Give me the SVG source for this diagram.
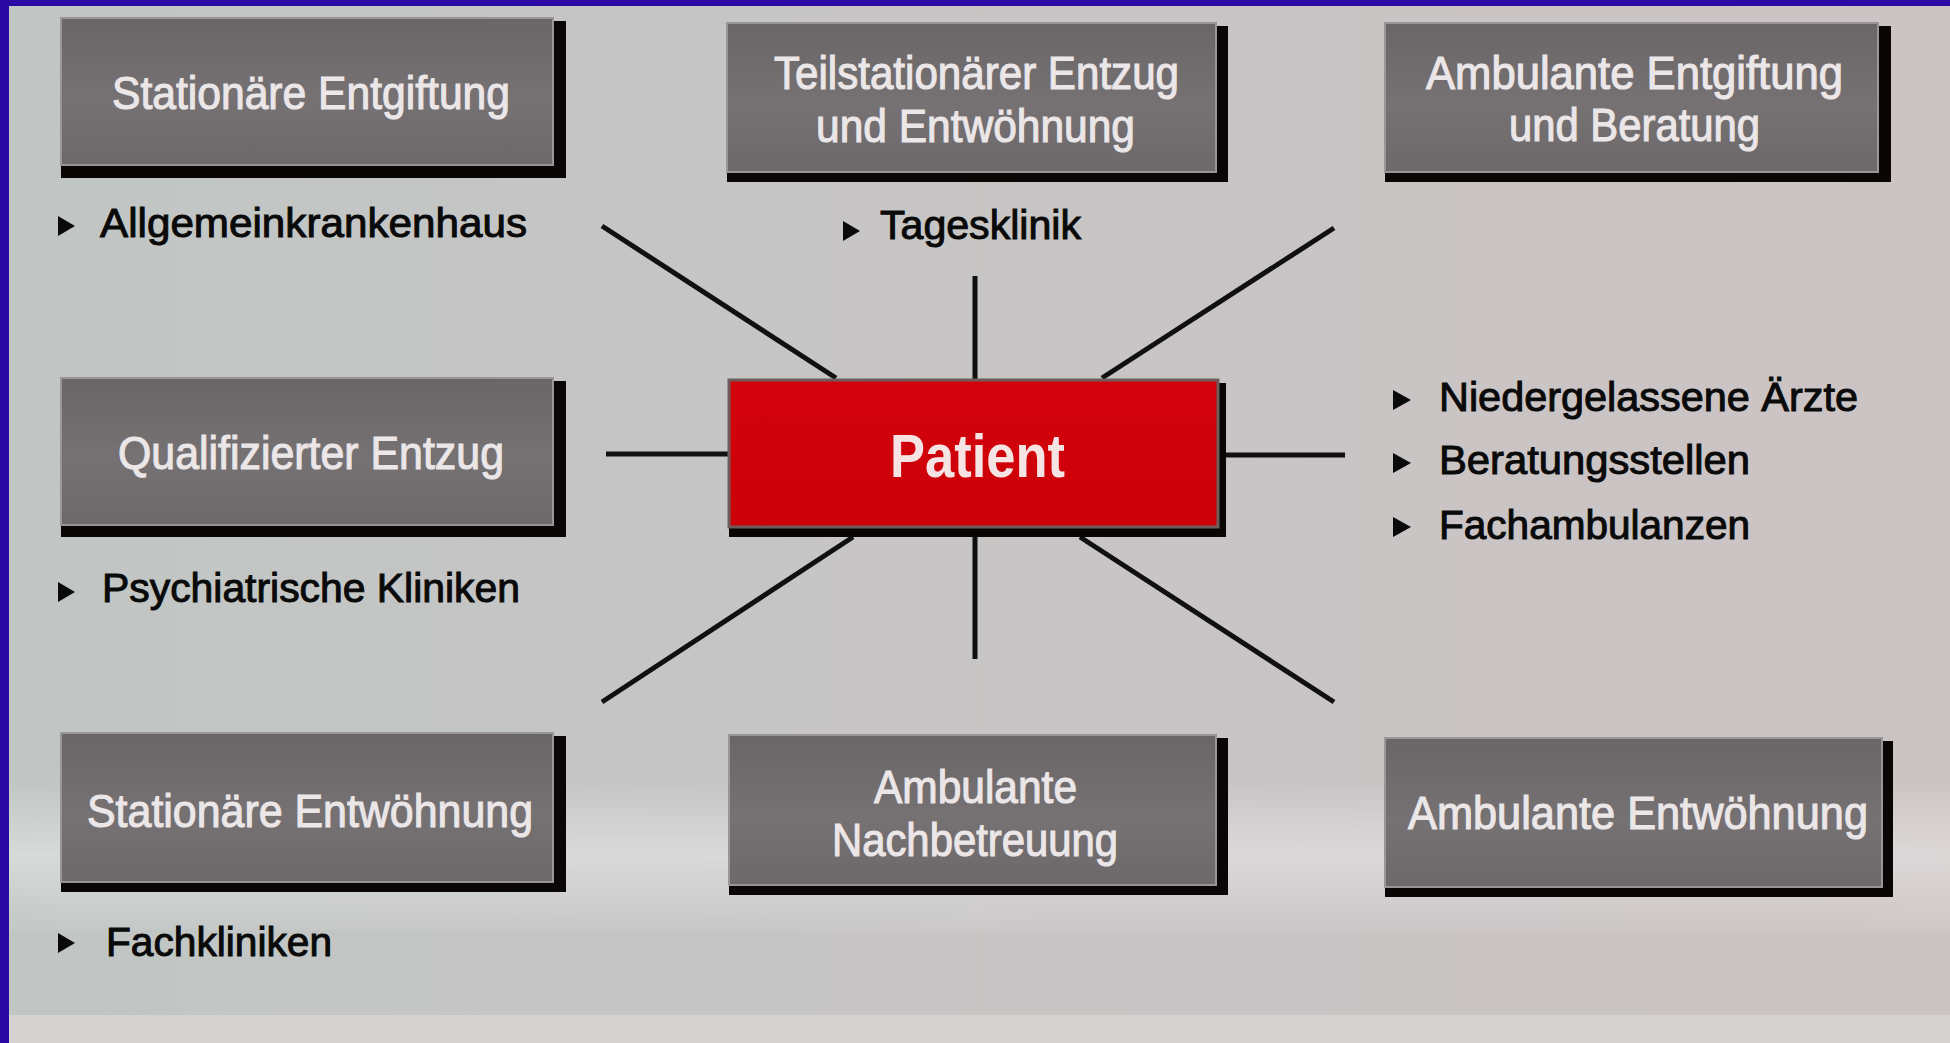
<svg xmlns="http://www.w3.org/2000/svg" width="1950" height="1043" viewBox="0 0 1950 1043">
<defs>
<linearGradient id="bgH" x1="0" y1="0" x2="1" y2="0">
<stop offset="0" stop-color="#c0c6c4"/>
<stop offset="0.5" stop-color="#c8c5c5"/>
<stop offset="1" stop-color="#ccc3c4"/>
</linearGradient>
<linearGradient id="cloud" x1="0" y1="0" x2="0" y2="1">
<stop offset="0" stop-color="#ffffff" stop-opacity="0"/>
<stop offset="0.5" stop-color="#ffffff" stop-opacity="0.35"/>
<stop offset="1" stop-color="#ffffff" stop-opacity="0.05"/>
</linearGradient>
<linearGradient id="boxFill" x1="0" y1="0" x2="0" y2="1">
<stop offset="0" stop-color="#6a6567"/>
<stop offset="0.55" stop-color="#767173"/>
<stop offset="1" stop-color="#6d696b"/>
</linearGradient>
<linearGradient id="redFill" x1="0" y1="0" x2="0" y2="1">
<stop offset="0" stop-color="#d3030c"/>
<stop offset="1" stop-color="#cc0008"/>
</linearGradient>
</defs>
<style>
.shadow{fill:#0b0606}
.box{fill:url(#boxFill);stroke:#9a9697;stroke-width:2}
.pbox{fill:url(#redFill);stroke:#6e5c5c;stroke-width:3}
.bt{font-family:"Liberation Sans",Arial,sans-serif;font-size:46px;fill:#ebe6e7;stroke:#ebe6e7;stroke-width:1.1}
.lt{font-family:"Liberation Sans",Arial,sans-serif;font-size:40px;fill:#0a0a0a;stroke:#0a0a0a;stroke-width:1}
.pt{font-family:"Liberation Sans",Arial,sans-serif;font-size:61px;font-weight:bold;fill:#f6e4e4}
.tri{fill:#0a0a0a}
.con{stroke:#101010;stroke-width:5;fill:none;stroke-linecap:butt}
</style>

<rect x="0" y="0" width="1950" height="1043" fill="url(#bgH)"/>
<rect x="0" y="780" width="1950" height="150" fill="url(#cloud)"/>
<rect x="0" y="1015" width="1950" height="28" fill="#d6d2cf"/>
<rect x="0" y="0" width="9" height="1043" fill="#2a0aa2"/>
<rect x="0" y="0" width="1950" height="6" fill="#2a0aa2"/>

<g id="connectors">
<line class="con" x1="602" y1="226" x2="836" y2="378"/>
<line class="con" x1="975" y1="276" x2="975" y2="380"/>
<line class="con" x1="1334" y1="228" x2="1102" y2="378"/>
<line class="con" x1="606" y1="454" x2="729" y2="454"/>
<line class="con" x1="1226" y1="455" x2="1345" y2="455"/>
<line class="con" x1="853" y1="537" x2="602" y2="702"/>
<line class="con" x1="975" y1="537" x2="975" y2="659"/>
<line class="con" x1="1080" y1="537" x2="1334" y2="702"/>
</g>

<g id="node-stationaere-entgiftung">
<rect class="shadow" x="61" y="21" width="505" height="157"/>
<rect class="box" x="61" y="18" width="492" height="147"/>
<text class="bt" x="112" y="109" textLength="398" lengthAdjust="spacingAndGlyphs">Stationäre Entgiftung</text>
</g>
<g id="label-allgemeinkrankenhaus">
<polygon class="tri" points="58,216 75,226 58,236"/>
<text class="lt" x="100" y="237" textLength="427" lengthAdjust="spacingAndGlyphs">Allgemeinkrankenhaus</text>
</g>

<g id="node-teilstationaer">
<rect class="shadow" x="727" y="26" width="501" height="156"/>
<rect class="box" x="727" y="23" width="489" height="149"/>
<text class="bt" x="774" y="89" textLength="405" lengthAdjust="spacingAndGlyphs">Teilstationärer Entzug</text>
<text class="bt" x="816" y="142" textLength="319" lengthAdjust="spacingAndGlyphs">und Entwöhnung</text>
</g>
<g id="label-tagesklinik">
<polygon class="tri" points="843,221 860,231 843,241"/>
<text class="lt" x="880" y="239" textLength="201" lengthAdjust="spacingAndGlyphs">Tagesklinik</text>
</g>

<g id="node-ambulante-entgiftung">
<rect class="shadow" x="1385" y="26" width="506" height="156"/>
<rect class="box" x="1385" y="23" width="493" height="149"/>
<text class="bt" x="1426" y="89" textLength="417" lengthAdjust="spacingAndGlyphs">Ambulante Entgiftung</text>
<text class="bt" x="1509" y="141" textLength="251" lengthAdjust="spacingAndGlyphs">und Beratung</text>
</g>

<g id="node-qualifizierter-entzug">
<rect class="shadow" x="61" y="381" width="505" height="156"/>
<rect class="box" x="61" y="378" width="492" height="147"/>
<text class="bt" x="118" y="469" textLength="386" lengthAdjust="spacingAndGlyphs">Qualifizierter Entzug</text>
</g>
<g id="label-psychiatrische-kliniken">
<polygon class="tri" points="58,582 75,592 58,602"/>
<text class="lt" x="102" y="602" textLength="418" lengthAdjust="spacingAndGlyphs">Psychiatrische Kliniken</text>
</g>

<g id="node-patient">
<rect class="shadow" x="729" y="383" width="497" height="154"/>
<rect class="pbox" x="729" y="380" width="489" height="147"/>
<text class="pt" x="890" y="477" textLength="175" lengthAdjust="spacingAndGlyphs">Patient</text>
</g>

<g id="label-ambulant-list">
<polygon class="tri" points="1393,390 1411,400 1393,410"/>
<text class="lt" x="1439" y="411" textLength="419" lengthAdjust="spacingAndGlyphs">Niedergelassene Ärzte</text>
<polygon class="tri" points="1393,453 1411,463 1393,473"/>
<text class="lt" x="1439" y="474" textLength="311" lengthAdjust="spacingAndGlyphs">Beratungsstellen</text>
<polygon class="tri" points="1393,517 1411,527 1393,537"/>
<text class="lt" x="1439" y="539" textLength="311" lengthAdjust="spacingAndGlyphs">Fachambulanzen</text>
</g>

<g id="node-stationaere-entwoehnung">
<rect class="shadow" x="61" y="736" width="505" height="156"/>
<rect class="box" x="61" y="733" width="492" height="149"/>
<text class="bt" x="87" y="827" textLength="446" lengthAdjust="spacingAndGlyphs">Stationäre Entwöhnung</text>
</g>
<g id="label-fachkliniken">
<polygon class="tri" points="58,933 75,943 58,953"/>
<text class="lt" x="106" y="956" textLength="226" lengthAdjust="spacingAndGlyphs">Fachkliniken</text>
</g>

<g id="node-ambulante-nachbetreuung">
<rect class="shadow" x="729" y="738" width="499" height="157"/>
<rect class="box" x="729" y="735" width="487" height="150"/>
<text class="bt" x="874" y="803" textLength="203" lengthAdjust="spacingAndGlyphs">Ambulante</text>
<text class="bt" x="832" y="856" textLength="286" lengthAdjust="spacingAndGlyphs">Nachbetreuung</text>
</g>

<g id="node-ambulante-entwoehnung">
<rect class="shadow" x="1385" y="741" width="508" height="156"/>
<rect class="box" x="1385" y="738" width="497" height="149"/>
<text class="bt" x="1408" y="829" textLength="460" lengthAdjust="spacingAndGlyphs">Ambulante Entwöhnung</text>
</g>
</svg>
